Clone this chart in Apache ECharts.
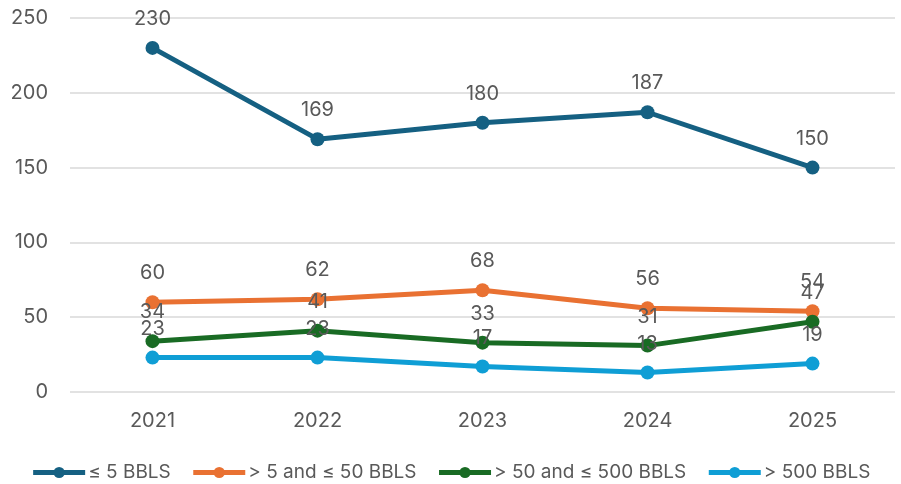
<!DOCTYPE html>
<html>
<head>
<meta charset="utf-8">
<script src="https://cdn.jsdelivr.net/npm/echarts@6/dist/echarts.min.js"></script>
<style>
  html, body { margin: 0; padding: 0; background: #fff; }
  #chart { width: 901px; height: 484px; }
</style>
</head>
<body>
<div id="chart"></div>
<script>
// chart values
const years = ['2021', '2022', '2023', '2024', '2025'];
const seriesNames = ['≤ 5 BBLS', '> 5 and ≤ 50 BBLS', '> 50 and ≤ 500 BBLS', '> 500 BBLS'];
const small = [230, 169, 180, 187, 150];
const medium = [60, 62, 68, 56, 54];
const large = [34, 41, 33, 31, 47];
const huge = [23, 23, 17, 13, 19];
const colors = ['#156082', '#E97132', '#196B24', '#0F9ED5'];

const textColor = '#595959';
const fontFamily = 'Inter, "Liberation Sans", sans-serif';

const chart = echarts.init(document.getElementById('chart'));

function makeLine(name, data, color) {
	return {
		name: name,
		type: 'line',
		data: data,
		symbol: 'circle',
		symbolSize: 14,
		lineStyle: { width: 5, color: color },
		itemStyle: { color: color },
		label: {
			show: true,
			position: 'top',
			distance: 12,
			color: textColor,
			fontSize: 20,
			fontFamily: fontFamily
		},
		emphasis: { disabled: true },
		animation: false
	};
}

chart.setOption({
	color: colors,
	grid: { left: 70, right: 6, top: 18, bottom: 92 },
	legend: {
		top: 458,
		left: 'center',
		itemWidth: 52,
		itemHeight: 14,
		itemGap: 20,
		lineStyle: { width: 5 },
		textStyle: { color: textColor, fontSize: 19, fontFamily: fontFamily, padding: [0, 0, 0, -2] },
		data: seriesNames
	},
	xAxis: {
		type: 'category',
		data: years,
		axisLine: { show: false },
		axisTick: { show: false },
		axisLabel: { color: textColor, fontSize: 20, fontFamily: fontFamily, margin: 19 }
	},
	yAxis: {
		type: 'value',
		min: 0,
		max: 250,
		interval: 50,
		axisLine: { show: false },
		axisTick: { show: false },
		splitLine: { lineStyle: { color: '#d9d9d9', width: 1.5 } },
		axisLabel: { color: textColor, fontSize: 20, fontFamily: fontFamily, margin: 22 }
	},
	series: [
		makeLine(seriesNames[0], small, colors[0]),
		makeLine(seriesNames[1], medium, colors[1]),
		makeLine(seriesNames[2], large, colors[2]),
		makeLine(seriesNames[3], huge, colors[3])
	]
});
</script>
</body>
</html>
